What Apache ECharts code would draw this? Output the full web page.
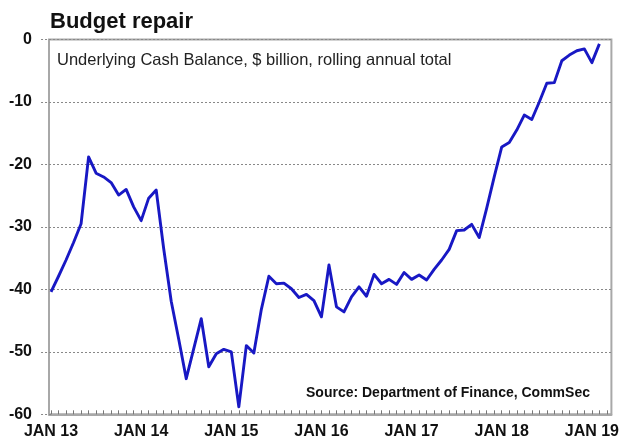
<!DOCTYPE html>
<html>
<head>
<meta charset="utf-8">
<script src="https://cdn.jsdelivr.net/npm/echarts@6/dist/echarts.min.js"></script>
<style>
html,body{margin:0;padding:0;background:#fff;}
#chart{width:622px;height:441px;}
</style>
</head>
<body>
<div id="chart"></div>
<script>
// Monthly underlying cash balance, $ billion (rolling annual total), Jan 2013 .. Feb 2019
var values = [
  -40.4, -37.9, -35.3, -32.5, -29.5, -18.8, -21.4, -22.0, -22.9, -24.9, -24.0, -26.8,
  -29.0, -25.4, -24.1, -33.5, -41.9, -48.0, -54.3, -49.5, -44.7, -52.4, -50.3, -49.6,
  -50.0, -58.8, -49.0, -50.2, -43.2, -37.9, -39.1, -39.0, -39.9, -41.3, -40.8, -41.8,
  -44.4, -36.1, -42.8, -43.6, -41.2, -39.6, -41.1, -37.6, -39.1, -38.4, -39.2, -37.3,
  -38.4, -37.7, -38.5, -36.8, -35.3, -33.6, -30.6, -30.5, -29.6, -31.7, -27.0, -22.0,
  -17.2, -16.5, -14.5, -12.1, -12.8, -10.0, -7.0, -6.9, -3.4, -2.5, -1.8, -1.5,
  -3.7, -0.7
];
// Month indices (0 = Jan 2013) at which the year labels sit
var xLabelPositions = [0, 12, 24, 36, 48, 60, 72];
var xLabels = ['JAN 13', 'JAN 14', 'JAN 15', 'JAN 16', 'JAN 17', 'JAN 18', 'JAN 19'];
var monthTicks = [];
for (var m = 0; m <= 74; m++) monthTicks.push(m);

var titleText = 'Budget repair';
var subtitleText = 'Underlying Cash Balance, $ billion, rolling annual total';
var sourceText = 'Source: Department of Finance, CommSec';

var seriesData = values.map(function (v, i) { return [i, v]; });

var chart = echarts.init(document.getElementById('chart'), null, {renderer: 'canvas'});
var FONT = 'Liberation Sans, Arial, sans-serif';
chart.setOption({
  animation: false,
  backgroundColor: '#ffffff',
  title: [
    {text: titleText, left: 45, top: 6, textStyle: {fontFamily: FONT, fontSize: 22, fontWeight: 'bold', color: '#111'}},
    {text: subtitleText, left: 52, top: 47, textStyle: {fontFamily: FONT, fontSize: 16.5, fontWeight: 'normal', color: '#222'}},
    {text: sourceText, left: 301, top: 381, textStyle: {fontFamily: FONT, fontSize: 14, fontWeight: 'bold', color: '#111'}}
  ],
  grid: {
    left: 49, right: 10, top: 39.5, bottom: 26.7,
    show: true, borderColor: '#a8a8a8', borderWidth: 2, backgroundColor: 'transparent'
  },
  xAxis: {
    type: 'value',
    min: -0.27,
    max: 74.6,
    axisLine: {show: true, onZero: false, lineStyle: {color: '#a8a8a8', width: 2}},
    axisTick: {show: true, inside: true, length: 4, customValues: monthTicks, lineStyle: {color: '#777', width: 1}},
    axisLabel: {
      show: true,
      customValues: xLabelPositions,
      margin: 9,
      fontFamily: FONT, fontSize: 16, fontWeight: 'bold', color: '#111',
      formatter: function (v) {
        var k = xLabelPositions.indexOf(Math.round(v));
        return k >= 0 ? xLabels[k] : '';
      }
    },
    splitLine: {show: false}
  },
  yAxis: {
    type: 'value',
    min: -60, max: 0, interval: 10,
    axisLine: {show: false},
    axisTick: {show: true, length: 10, lineStyle: {color: '#888', type: [2, 2], width: 1}},
    axisLabel: {margin: 17, fontFamily: FONT, fontSize: 16, fontWeight: 'bold', color: '#111'},
    splitLine: {show: true, lineStyle: {color: '#888', type: [2, 2], width: 1}}
  },
  series: [{
    type: 'line',
    data: seriesData,
    showSymbol: false,
    symbol: 'none',
    lineStyle: {color: '#1818c4', width: 2.9, join: 'round'},
    z: 5
  }]
});
</script>
</body>
</html>
